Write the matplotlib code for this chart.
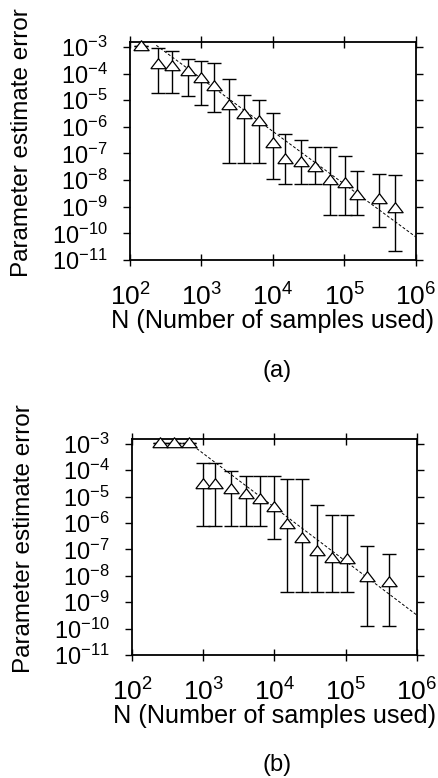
from matplotlib import pyplot as plt
import numpy as np

# panel (a)
n_a = [145, 245, 390, 645, 980, 1480, 2400, 3970, 6300, 1.0e4, 1.5e4, 2.45e4,
       3.9e4, 6.4e4, 1.02e5, 1.49e5, 3.1e5, 5.1e5]
err_a = [1.1e-3, 2.2e-4, 1.9e-4, 1.2e-4, 6.9e-5, 3.4e-5, 6.3e-6, 3.0e-6, 1.7e-6,
         2.5e-7, 6.3e-8, 4.6e-8, 3.2e-8, 1.0e-8, 7.5e-9, 2.7e-9, 1.9e-9, 8.7e-10]
hi_a = [1.1e-3, 9e-4, 7e-4, 3.5e-4, 3e-4, 2.5e-4, 6e-5, 1.5e-5, 1e-5,
        3.4e-6, 5.3e-7, 3.3e-7, 1.7e-7, 1.7e-7, 8.1e-8, 2.1e-8, 1.7e-8, 1.6e-8]
lo_a = [1.1e-3, 1.9e-5, 1.9e-5, 1.4e-5, 6.3e-6, 3.6e-6, 4.2e-8, 4.2e-8, 4.2e-8,
        1.1e-8, 6.9e-9, 6.9e-9, 6.9e-9, 4.7e-10, 4.7e-10, 4.7e-10, 1.8e-10, 2.2e-11]
fit_a = (56.0, -1.98, 234)  # coefficient, exponent, first N of the fit line

# panel (b)
n_b = [250, 390, 630, 980, 1480, 2460, 3970, 6300, 9800, 1.48e4, 2.45e4, 4.0e4,
       6.4e4, 1.03e5, 2.0e5, 4.0e5]
err_b = [1.1e-3, 1.1e-3, 1.1e-3, 3.1e-5, 3.1e-5, 1.9e-5, 1.3e-5, 8.3e-6, 4.0e-6,
         9.5e-7, 2.6e-7, 8.5e-8, 4.9e-8, 4.5e-8, 9.1e-9, 5.9e-9]
hi_b = [1.1e-3, 1.1e-3, 1.1e-3, 1.9e-4, 1.9e-4, 9.3e-5, 6e-5, 6e-5, 6e-5,
        4.5e-5, 4.5e-5, 4.9e-6, 2e-6, 2e-6, 1.3e-7, 6.6e-8]
lo_b = [1.1e-3, 1.1e-3, 1.1e-3, 7.6e-7, 7.6e-7, 7.6e-7, 7.6e-7, 7.6e-7, 2.5e-7,
        2.4e-9, 2.4e-9, 2.4e-9, 2.4e-9, 2.4e-9, 1.26e-10, 1.26e-10]
fit_b = (565.0, -2.04, 630)

x_ticks = [1e2, 1e3, 1e4, 1e5, 1e6]
y_ticks = [1e-3, 1e-4, 1e-5, 1e-6, 1e-7, 1e-8, 1e-9, 1e-10, 1e-11]

plt.rcParams["font.family"] = ["Liberation Sans", "DejaVu Sans"]
plt.rcParams["mathtext.fontset"] = "custom"
plt.rcParams["mathtext.rm"] = "Liberation Sans"
plt.rcParams["mathtext.it"] = "Liberation Sans:italic"
plt.rcParams["mathtext.bf"] = "Liberation Sans:bold"
plt.rcParams["axes.unicode_minus"] = False

tri = [(-1, -0.55), (1, -0.55), (0, 0.75), (-1, -0.55)]


def draw_panel(ax, n, err, lo, hi, fit):
    n = np.array(n)
    err = np.array(err)
    yerr = [err - np.array(lo), np.array(hi) - err]
    ax.errorbar(n, err, yerr=yerr, fmt="none", ecolor="black", elinewidth=1.0,
                capsize=5, capthick=1.0, zorder=2)
    ax.plot(n, err, linestyle="none", marker=tri, markersize=11,
            markerfacecolor="white", markeredgecolor="black", markeredgewidth=0.9,
            zorder=3, clip_on=False)
    c, p, start = fit
    xs = np.logspace(np.log10(start), 6, 50)
    ax.plot(xs, c * xs ** p, color="black", linewidth=0.7, dashes=(3, 2), zorder=1)

    ax.set_xscale("log")
    ax.set_yscale("log")
    ax.set_xlim(1e2, 1e6)
    ax.set_ylim(1e-11, 1.5e-3)
    ax.set_xticks(x_ticks)
    ax.set_yticks(y_ticks)
    ax.minorticks_off()
    ax.tick_params(axis="y", which="major", direction="out", length=5, width=1.0,
                   labelsize=17, pad=11, right=True)
    ax.tick_params(axis="x", which="major", direction="inout", length=9, width=1.0,
                   labelsize=19, pad=12, top=True)
    for s in ax.spines.values():
        s.set_linewidth(1.3)
    ax.set_xlabel("N (Number of samples used)", fontsize=18.2, labelpad=-1)
    ax.set_ylabel("Parameter estimate error", fontsize=17.5)
    ax.yaxis.set_label_coords(-0.34, 0.54)


fig = plt.figure(figsize=(4.39, 7.78), dpi=100)
ax_a = fig.add_axes([0.296, 0.6658, 0.651, 0.280])
ax_b = fig.add_axes([0.3007, 0.158, 0.649, 0.2776])
draw_panel(ax_a, n_a, err_a, lo_a, hi_a, fit_a)
draw_panel(ax_b, n_b, err_b, lo_b, hi_b, fit_b)
fig.text(0.63, 1 - 371 / 778, "(a)", ha="center", va="center", fontsize=17)
fig.text(0.63, 1 - 765 / 778, "(b)", ha="center", va="center", fontsize=17)

plt.savefig("out.png", dpi=100)
plt.close()
